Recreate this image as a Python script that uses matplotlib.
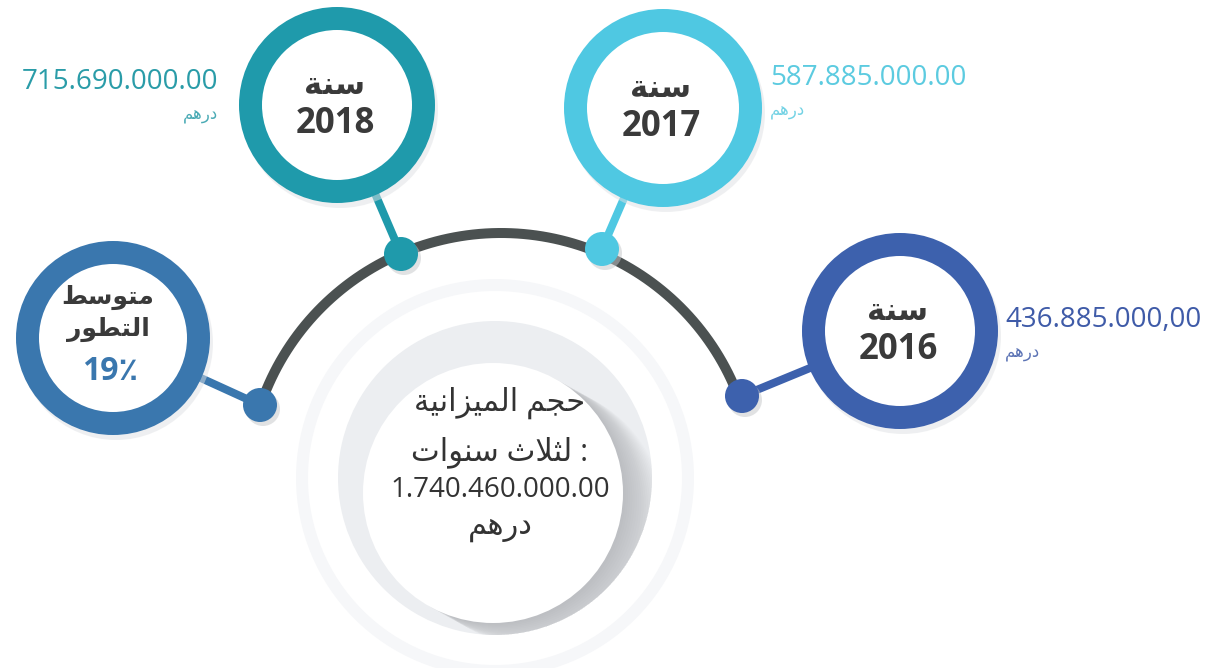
import numpy as np
import matplotlib
matplotlib.use('Agg')
import matplotlib.pyplot as plt
from matplotlib.patches import Circle

# data
years = ['2016', '2017', '2018']
budgets = ['436.885.000,00', '587.885.000.00', '715.690.000.00']
total_budget = '1.740.460.000.00'
avg_growth = 19
year_word = 'سنة'
currency = 'درهم'
avg_label = ['متوسط', 'التطور']
center_label = ['حجم الميزانية', 'لثلاث سنوات']

# colours of each node
ring_colors = {'2016': '#3d61ad', '2017': '#4fc8e2', '2018': '#1f9aab', 'avg': '#3a77ae'}
value_colors = {'2016': '#3f5ba8', '2017': '#5ccbe0', '2018': '#2a9ca8'}

# simple arabic shaping (presentation forms) + reversal for LTR drawing
FORMS = {
    'ا': ('\uFE8D', '\uFE8E', None, None),
    'ت': ('\uFE95', '\uFE96', '\uFE97', '\uFE98'),
    'ث': ('\uFE99', '\uFE9A', '\uFE9B', '\uFE9C'),
    'ج': ('\uFE9D', '\uFE9E', '\uFE9F', '\uFEA0'),
    'ح': ('\uFEA1', '\uFEA2', '\uFEA3', '\uFEA4'),
    'د': ('\uFEA9', '\uFEAA', None, None),
    'ر': ('\uFEAD', '\uFEAE', None, None),
    'ز': ('\uFEAF', '\uFEB0', None, None),
    'س': ('\uFEB1', '\uFEB2', '\uFEB3', '\uFEB4'),
    'ط': ('\uFEC1', '\uFEC2', '\uFEC3', '\uFEC4'),
    'ل': ('\uFEDD', '\uFEDE', '\uFEDF', '\uFEE0'),
    'م': ('\uFEE1', '\uFEE2', '\uFEE3', '\uFEE4'),
    'ن': ('\uFEE5', '\uFEE6', '\uFEE7', '\uFEE8'),
    'ه': ('\uFEE9', '\uFEEA', '\uFEEB', '\uFEEC'),
    'و': ('\uFEED', '\uFEEE', None, None),
    'ي': ('\uFEF1', '\uFEF2', '\uFEF3', '\uFEF4'),
    'ة': ('\uFE93', '\uFE94', None, None),
    'لا': ('\uFEFB', '\uFEFC', None, None),
}


def shape(text):
    chars = []
    i = 0
    while i < len(text):
        if text[i] == 'ل' and i + 1 < len(text) and text[i + 1] == 'ا':
            chars.append('لا')
            i += 2
        else:
            chars.append(text[i])
            i += 1
    out = []
    for k, c in enumerate(chars):
        if c not in FORMS:
            out.append(c)
            continue
        prev = chars[k - 1] if k > 0 else None
        nxt = chars[k + 1] if k + 1 < len(chars) else None
        jp = prev in FORMS and FORMS[prev][2] is not None
        jn = FORMS[c][2] is not None and nxt in FORMS
        f = FORMS[c]
        if jp and jn:
            out.append(f[3])
        elif jp:
            out.append(f[1])
        elif jn:
            out.append(f[2])
        else:
            out.append(f[0])
    return ''.join(reversed(out))


FONT = ['Open Sans', 'DejaVu Sans']
plt.rcParams['font.family'] = FONT

fig = plt.figure(figsize=(12.21, 6.68), dpi=100)
ax = fig.add_axes([0, 0, 1, 1])
ax.set_xlim(0, 1221)
ax.set_ylim(668, 0)
ax.axis('off')

PX = 72 / 100  # points per pixel

# center decoration
ccx, ccy = 495, 478
ax.add_patch(Circle((ccx, ccy), 193, fill=False, ec='#f6f7f9', lw=12 * PX, zorder=1))
annulus = Circle((ccx, ccy), 157, fc='#eceef1', ec='none', zorder=2)
ax.add_patch(annulus)
dcx, dcy, dr = 493, 493, 130
for d in np.linspace(3, 45, 18):
    sh = Circle((dcx + d * 0.9, dcy + d * 0.5), dr, fc='#8e9094', ec='none', alpha=0.03, zorder=3)
    ax.add_patch(sh)
    sh.set_clip_path(annulus)
ax.add_patch(Circle((dcx, dcy), dr, fc='white', ec='none', zorder=4))

# arc
acx, acy, ar = 501, 487, 254
th = np.radians(np.linspace(19.5, 161, 200))
ax.plot(acx + ar * np.cos(th), acy - ar * np.sin(th), color='#4b5151', lw=10 * PX,
        solid_capstyle='round', zorder=5)

# nodes: ring centre, ring radius, dot position
nodes = {
    'avg': ((113, 338), 97, (260, 405)),
    '2018': ((337, 105), 98, (401, 254)),
    '2017': ((663, 108), 99, (602, 249)),
    '2016': ((900, 331), 98, (742, 396)),
}
for key, (cen, r, dot) in nodes.items():
    col = ring_colors[key]
    ax.plot([dot[0], cen[0]], [dot[1], cen[1]], color=col, lw=8 * PX, zorder=6)
    ax.add_patch(Circle((dot[0] + 3, dot[1] + 4), 17, fc='#c4c6c9', ec='none', alpha=0.5, zorder=6))
    ax.add_patch(Circle(dot, 17, fc=col, ec='none', zorder=7))
    ax.add_patch(Circle((cen[0] + 3, cen[1] + 5), r, fc='#dfe1e4', ec='none', alpha=0.5, zorder=7))
    ax.add_patch(Circle(cen, r, fc=col, ec='none', zorder=8))
    ax.add_patch(Circle(cen, r - 23, fc='white', ec='none', zorder=9))

# year labels inside rings
for y in years:
    (cx, cy), r, _ = nodes[y]
    ax.text(cx - 2, cy - 19, shape(year_word), fontsize=22, fontweight='bold', color='#3a3a3a',
            ha='center', va='center', zorder=10)
    ax.text(cx - 2, cy + 19, y, fontsize=25, fontweight='bold', color='#3a3a3a',
            ha='center', va='center', zorder=10)

# average growth ring
(cx, cy), r, _ = nodes['avg']
ax.text(cx - 5, cy - 41, shape(avg_label[0]), fontsize=18, fontweight='bold', color='#3a3a3a',
        ha='center', va='center', zorder=10)
ax.text(cx - 5, cy - 9, shape(avg_label[1]), fontsize=18, fontweight='bold', color='#3a3a3a',
        ha='center', va='center', zorder=10)
ax.text(cx - 3, cy + 34, f'{avg_growth}\u066A', fontsize=23, fontweight='bold', color=ring_colors['avg'],
        ha='center', va='center', zorder=10)

# budget values
value_pos = {'2018': (218, 82, 'right'), '2017': (770, 78, 'left'), '2016': (1005, 320, 'left')}
for y, b in zip(years, budgets):
    x0, y0, ha = value_pos[y]
    ax.text(x0, y0, b, fontsize=20, color=value_colors[y], ha=ha, va='center', zorder=10)
    ax.text(x0, y0 + 33, shape(currency), fontsize=12, color=value_colors[y], alpha=0.85,
            ha=ha, va='center', zorder=10)

# center text
tx = 500
ax.text(tx, 403, shape(center_label[0]), fontsize=22, color='#333333', ha='center', va='center', zorder=10)
ax.text(tx, 452, shape(center_label[1]) + ' :', fontsize=22, color='#333333', ha='center', va='center', zorder=10)
ax.text(tx, 490, total_budget, fontsize=20, color='#333333', ha='center', va='center', zorder=10)
ax.text(tx, 527, shape(currency), fontsize=22, color='#333333', ha='center', va='center', zorder=10)

fig.savefig('out.png', dpi=100, facecolor='white')
